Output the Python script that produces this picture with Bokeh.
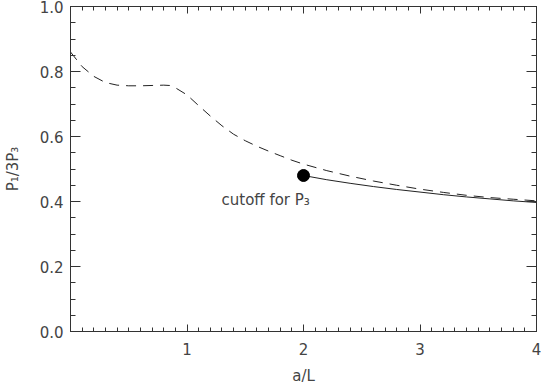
import numpy as np
from bokeh.plotting import figure
from bokeh.models import (Range1d, LinearAxis, FixedTicker, PrintfTickFormatter,
                          CustomJSTickFormatter)
from bokeh.core.properties import value
from bokeh.embed import file_html
from bokeh.resources import INLINE

# Dashed curve (full range)
dash_x = [0.0, 0.1, 0.2, 0.3, 0.4, 0.5, 0.6, 0.7, 0.8, 0.85, 0.9, 1.0, 1.1, 1.2,
          1.3, 1.4, 1.5, 1.6, 1.7, 1.8, 1.9, 2.0, 2.2, 2.4, 2.6, 2.8, 3.0, 3.2,
          3.4, 3.6, 3.8, 4.0]
dash_y = [0.860, 0.815, 0.785, 0.766, 0.758, 0.756, 0.756, 0.757, 0.758, 0.757,
          0.750, 0.728, 0.695, 0.663, 0.633, 0.607, 0.587, 0.570, 0.555, 0.541,
          0.527, 0.515, 0.495, 0.478, 0.463, 0.450, 0.438, 0.428, 0.419, 0.412,
          0.407, 0.402]

# Solid curve (beyond cutoff)
solid_x = [2.0, 2.2, 2.4, 2.6, 2.8, 3.0, 3.2, 3.4, 3.6, 3.8, 4.0]
solid_y = [0.480, 0.467, 0.456, 0.446, 0.437, 0.429, 0.421, 0.414, 0.408, 0.402, 0.397]

# Cutoff marker
cut_x = [2.0]
cut_y = [0.480]
cut_label = ["cutoff for P\u2083"]

x_ticks = [1, 2, 3, 4]
y_ticks = [0.0, 0.2, 0.4, 0.6, 0.8, 1.0]

FONT = "DejaVu Sans"
TXT = "#444444"
AX = "#333333"

p = figure(width=541, height=389, output_backend="svg", toolbar_location=None,
           x_range=Range1d(0, 4), y_range=Range1d(0, 1),
           min_border_left=70, min_border_right=5, min_border_top=6,
           min_border_bottom=58, x_axis_label="a/L",
           y_axis_label="P\u2081/3P\u2083")
p.grid.visible = False
p.outline_line_color = AX
p.background_fill_color = "white"
p.border_fill_color = "white"

x_minor = list(np.round(np.arange(0, 4.0001, 0.1), 2))
y_minor = list(np.round(np.arange(0, 1.0001, 0.05), 2))

xt = FixedTicker(ticks=x_ticks, minor_ticks=x_minor)
yt = FixedTicker(ticks=y_ticks, minor_ticks=y_minor)


def style(ax, ticker, major_in, minor_in):
    ax.ticker = ticker
    ax.axis_line_color = AX
    ax.major_tick_line_color = AX
    ax.minor_tick_line_color = AX
    ax.major_tick_in = major_in
    ax.major_tick_out = 0
    ax.minor_tick_in = minor_in
    ax.minor_tick_out = 0
    ax.major_label_text_font = FONT
    ax.major_label_text_font_size = "15px"
    ax.major_label_text_color = TXT
    ax.axis_label_text_font = FONT
    ax.axis_label_text_font_size = "15px"
    ax.axis_label_text_font_style = "normal"
    ax.axis_label_text_color = TXT


xa = p.xaxis[0]
style(xa, xt, 7, 4)
xa.formatter = PrintfTickFormatter(format="%d")
xa.major_label_standoff = 11
xa.axis_label_standoff = 9

ya = p.yaxis[0]
style(ya, yt, 10, 5)
ya.formatter = PrintfTickFormatter(format="%.1f")
ya.major_label_standoff = 7
ya.axis_label_standoff = 15

blank = CustomJSTickFormatter(code="return ''")
top = LinearAxis()
style(top, xt, 7, 4)
top.formatter = blank
top.major_label_text_font_size = "1px"
top.major_label_standoff = 0
top.axis_label_standoff = 0
p.add_layout(top, "above")

right = LinearAxis()
style(right, yt, 10, 5)
right.formatter = blank
right.major_label_text_font_size = "1px"
right.major_label_standoff = 0
right.axis_label_standoff = 0
p.add_layout(right, "right")

p.line(dash_x, dash_y, line_color="#222222", line_width=1, line_dash="10 7")
p.line(solid_x, solid_y, line_color="#222222", line_width=1)
p.scatter(cut_x, cut_y, size=12, fill_color="black", line_color="black")
p.text(cut_x, cut_y, text=cut_label, x_offset=-82, y_offset=24,
       text_font=value(FONT), text_font_size="15px", text_color=TXT,
       text_baseline="alphabetic", text_align="left")

open("out.html", "w").write(file_html(p, INLINE))
